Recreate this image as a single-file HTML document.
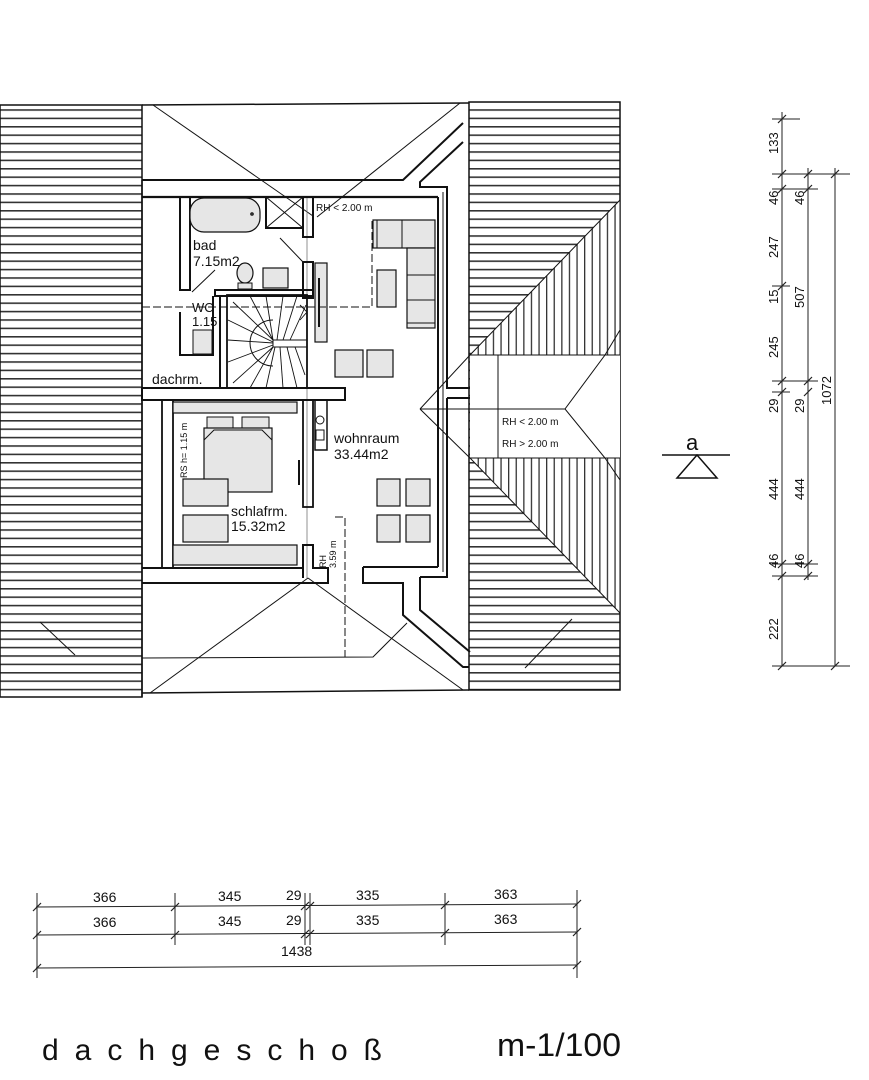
<!DOCTYPE html>
<html><head><meta charset="utf-8"><style>
html,body{margin:0;padding:0;background:#fff;}
svg{display:block;}
text{font-family:"Liberation Sans",sans-serif;fill:#111;}
</style></head><body>
<svg width="869" height="1080" viewBox="0 0 869 1080" xmlns="http://www.w3.org/2000/svg">
<defs>
<pattern id="hh" width="10" height="8.4" patternUnits="userSpaceOnUse"><rect width="10" height="8.4" fill="#fff"/><rect y="0" width="10" height="1.6" fill="#333"/></pattern>
<pattern id="vh" width="7.6" height="10" patternUnits="userSpaceOnUse" x="470"><rect width="7.6" height="10" fill="#fff"/><rect x="0" width="1.3" height="10" fill="#333"/></pattern>
</defs>
<g stroke="#111" fill="none">
<!-- left roof -->
<rect x="0" y="105" width="142" height="592" fill="url(#hh)" stroke-width="1.5"/>
<line x1="75" y1="655" x2="40" y2="622" stroke-width="1"/>
<!-- right roof -->
<rect x="469" y="102" width="151" height="588" fill="url(#hh)" stroke-width="1.5"/>
<polygon points="470,355 620,200 620,355" fill="url(#vh)" stroke-width="1"/>
<polygon points="470,458 620,458 620,613" fill="url(#vh)" stroke-width="1"/>
<rect x="470" y="355" width="150" height="103" fill="#fff" stroke="none"/>
<line x1="470" y1="355" x2="620" y2="355" stroke-width="1"/>
<line x1="470" y1="458" x2="620" y2="458" stroke-width="1"/>
<polyline points="420,409 470,355 605,355 565,409 605,458 470,458 420,409" stroke-width="1"/>
<line x1="420" y1="409" x2="565" y2="409" stroke-width="1"/>
<line x1="605" y1="355" x2="620" y2="330" stroke-width="1"/>
<line x1="605" y1="458" x2="620" y2="480" stroke-width="1"/>
<line x1="498" y1="355" x2="498" y2="458" stroke-width="1"/>
<line x1="572" y1="619" x2="525" y2="668" stroke-width="1"/>
<!-- central area top -->
<line x1="142" y1="105" x2="469" y2="103" stroke-width="1.5"/>
<line x1="153" y1="105" x2="313" y2="216" stroke-width="1"/>
<line x1="460" y1="103" x2="317" y2="217" stroke-width="1"/>
<polyline points="142,180 403,180 463,123" stroke-width="2"/>
<polyline points="420,188 420,182 463,142" stroke-width="2"/>
<line x1="142" y1="197" x2="438" y2="197" stroke-width="2.2"/>
<!-- living room right walls -->
<polyline points="420,187 447,187 447,388 470,388" stroke-width="2"/>
<line x1="438" y1="197" x2="438" y2="567" stroke-width="2"/>
<line x1="443" y1="192" x2="443" y2="572" stroke-width="1"/>
<polyline points="447,398 470,398" stroke-width="2"/>
<polyline points="447,398 447,577 420,577" stroke-width="2"/>
<line x1="307" y1="197" x2="307" y2="578" stroke-width="0.8" stroke="#777"/>
<!-- bathroom -->
<rect x="180" y="197" width="10" height="93" stroke-width="2"/>
<rect x="190" y="198" width="70" height="34" fill="#e6e6e6" rx="14" stroke-width="1.2"/>
<circle cx="252" cy="214" r="1.3" fill="#555"/>
<rect x="266" y="197" width="37" height="31" stroke-width="2"/>
<line x1="266" y1="197" x2="303" y2="228"/><line x1="303" y1="197" x2="266" y2="228"/>
<rect x="303" y="197" width="10" height="40" stroke-width="2"/>
<rect x="303" y="262" width="10" height="36" stroke-width="2"/>
<line x1="280" y1="238" x2="303" y2="262" stroke-width="1"/>
<rect x="215" y="290" width="98" height="6" stroke-width="2"/>
<ellipse cx="245" cy="273" rx="8" ry="10" fill="#e6e6e6" stroke-width="1.2"/>
<rect x="238" y="283" width="14" height="6" fill="#e6e6e6" stroke-width="1"/>
<rect x="263" y="268" width="25" height="20" fill="#e6e6e6" stroke-width="1.2"/>
<line x1="215" y1="270" x2="192" y2="292" stroke-width="1"/>
<!-- WC -->
<polyline points="180,312 180,355 213,355 213,296" stroke-width="2"/>
<rect x="193" y="330" width="19" height="24" fill="#e6e6e6" stroke-width="1"/>
<line x1="142" y1="307" x2="185" y2="307" stroke-dasharray="8,3" stroke-width="1"/>
<line x1="220" y1="296" x2="220" y2="388" stroke-width="2"/>
<!-- stairs -->
<rect x="227" y="295" width="80" height="93" stroke-width="1.8"/>
<rect x="273" y="340" width="34" height="7" stroke-width="1"/>
<path d="M273,320 A23,23 0 0 0 273,366" stroke-width="1"/>
<g stroke-width="0.9">
<line x1="273" y1="340" x2="233" y2="302"/><line x1="273" y1="340" x2="250" y2="296"/><line x1="273" y1="340" x2="266" y2="296"/>
<line x1="277" y1="340" x2="283" y2="296"/><line x1="283" y1="340" x2="297" y2="296"/><line x1="290" y1="340" x2="306" y2="305"/>
<line x1="273" y1="342" x2="228" y2="320"/><line x1="273" y1="343" x2="228" y2="340"/><line x1="273" y1="345" x2="228" y2="362"/>
<line x1="273" y1="347" x2="233" y2="383"/><line x1="273" y1="347" x2="250" y2="388"/><line x1="275" y1="347" x2="266" y2="388"/>
<line x1="280" y1="347" x2="283" y2="388"/><line x1="287" y1="347" x2="297" y2="388"/><line x1="295" y1="347" x2="305" y2="375"/>
</g>
<polyline points="300,305 307,312 300,320" stroke-width="0.9"/>
<!-- living furniture -->
<rect x="315" y="263" width="12" height="79" fill="#e6e6e6" stroke-width="1.2"/>
<line x1="319" y1="278" x2="319" y2="327" stroke-width="2"/>
<rect x="373" y="220" width="62" height="28" fill="#e6e6e6" stroke-width="1.2"/>
<rect x="407" y="248" width="28" height="80" fill="#e6e6e6" stroke-width="1.2"/>
<line x1="377" y1="220" x2="377" y2="248"/><line x1="402" y1="220" x2="402" y2="248"/>
<line x1="407" y1="275" x2="435" y2="275"/><line x1="407" y1="300" x2="435" y2="300"/><line x1="407" y1="323" x2="435" y2="323"/>
<rect x="377" y="270" width="19" height="37" fill="#e6e6e6" stroke-width="1.2"/>
<rect x="335" y="350" width="28" height="27" fill="#e6e6e6" stroke-width="1.2"/>
<rect x="367" y="350" width="26" height="27" fill="#e6e6e6" stroke-width="1.2"/>
<polyline points="142,307 372,307 372,218" stroke-dasharray="8,3" stroke-width="1"/>
<!-- mid wall -->
<polyline points="142,388 142,400 345,400 345,388 142,388" stroke-width="2"/>
<!-- bedroom -->
<rect x="162" y="400" width="11" height="168" stroke-width="1.8"/>
<rect x="303" y="400" width="10" height="107" stroke-width="1.8"/>
<rect x="315" y="400" width="12" height="50" stroke-width="1.5"/>
<circle cx="320" cy="420" r="4"/><rect x="316" y="430" width="8" height="10"/>
<rect x="173" y="402" width="124" height="11" fill="#e6e6e6" stroke-width="1.2"/>
<rect x="207" y="417" width="26" height="15" fill="#e6e6e6" stroke-width="1"/>
<rect x="242" y="417" width="27" height="15" fill="#e6e6e6" stroke-width="1"/>
<rect x="204" y="428" width="68" height="64" fill="#e6e6e6" stroke-width="1.2"/>
<polyline points="204,440 214,430 262,430 272,440" stroke-width="1"/>
<rect x="183" y="479" width="45" height="27" fill="#e6e6e6" stroke-width="1.2"/>
<rect x="183" y="515" width="45" height="27" fill="#e6e6e6" stroke-width="1.2"/>
<rect x="173" y="545" width="124" height="20" fill="#e6e6e6" stroke-width="1.2"/>
<line x1="299" y1="460" x2="299" y2="485" stroke-width="2"/>
<polyline points="303,578 303,545 313,545 313,568 328,568 328,583 142,583" stroke-width="2"/>
<line x1="142" y1="568" x2="303" y2="568" stroke-width="2"/>
<!-- dining -->
<rect x="377" y="479" width="23" height="27" fill="#e6e6e6" stroke-width="1.2"/>
<rect x="406" y="479" width="24" height="27" fill="#e6e6e6" stroke-width="1.2"/>
<rect x="377" y="515" width="23" height="27" fill="#e6e6e6" stroke-width="1.2"/>
<rect x="406" y="515" width="24" height="27" fill="#e6e6e6" stroke-width="1.2"/>
<!-- lower walls -->
<polyline points="363,567 363,583 403,583 403,615 463,667 469,667" stroke-width="2"/>
<polyline points="363,567 438,567" stroke-width="2"/>
<polyline points="420,577 420,610 470,652" stroke-width="2"/>
<polyline points="335,517 345,517 345,657" stroke-dasharray="8,3" stroke-width="1"/>
<line x1="308" y1="578" x2="150" y2="693" stroke-width="1"/>
<line x1="308" y1="578" x2="463" y2="690" stroke-width="1"/>
<polyline points="142,658 373,657 407,623" stroke-width="1"/>
<line x1="142" y1="693" x2="469" y2="690" stroke-width="1.5"/>
<line x1="142" y1="180" x2="142" y2="697" stroke-width="1.5"/>
</g>
<!-- labels -->
<g font-size="14">
<text x="193" y="250">bad</text><text x="193" y="266">7.15m2</text>
<text x="192" y="312" font-size="13">WC</text><text x="192" y="326" font-size="13">1.15</text>
<text x="152" y="384">dachrm.</text>
<text x="334" y="443">wohnraum</text><text x="334" y="459">33.44m2</text>
<text x="231" y="516">schlafrm.</text><text x="231" y="531">15.32m2</text>
</g>
<text x="316" y="211" font-size="10">RH &lt; 2.00 m</text>
<text x="502" y="425" font-size="10">RH &lt; 2.00 m</text>
<text x="502" y="447" font-size="10">RH &gt; 2.00 m</text>
<text transform="translate(187,478) rotate(-90)" font-size="9">RS h= 1.15 m</text>
<text transform="translate(326,568) rotate(-90)" font-size="9">RH</text>
<text transform="translate(336,568) rotate(-90)" font-size="9">3.59 m</text>
<!-- section marker -->
<g stroke="#111" fill="none" stroke-width="1.5">
<line x1="662" y1="455" x2="730" y2="455"/>
<polygon points="697,455 677,478 717,478"/>
</g>
<text x="686" y="450" font-size="22">a</text>
<!-- right dims -->
<g stroke="#222" stroke-width="1">
<line x1="782" y1="112" x2="782" y2="666"/>
<line x1="808" y1="168" x2="808" y2="580"/>
<line x1="835" y1="168" x2="835" y2="666"/>
<g>
<line x1="772" y1="119" x2="800" y2="119"/><line x1="772" y1="174" x2="850" y2="174"/>
<line x1="772" y1="189" x2="818" y2="189"/><line x1="772" y1="286" x2="790" y2="286"/>
<line x1="772" y1="381" x2="818" y2="381"/><line x1="772" y1="392" x2="790" y2="392"/>
<line x1="772" y1="564" x2="818" y2="564"/><line x1="772" y1="576" x2="818" y2="576"/>
<line x1="772" y1="666" x2="850" y2="666"/>
</g>
<g stroke-width="1.2">
<line x1="778" y1="123" x2="786" y2="115"/><line x1="778" y1="178" x2="786" y2="170"/><line x1="778" y1="193" x2="786" y2="185"/>
<line x1="778" y1="290" x2="786" y2="282"/><line x1="778" y1="385" x2="786" y2="377"/><line x1="778" y1="396" x2="786" y2="388"/>
<line x1="778" y1="568" x2="786" y2="560"/><line x1="778" y1="580" x2="786" y2="572"/><line x1="778" y1="670" x2="786" y2="662"/>
<line x1="804" y1="178" x2="812" y2="170"/><line x1="804" y1="193" x2="812" y2="185"/><line x1="804" y1="385" x2="812" y2="377"/>
<line x1="804" y1="396" x2="812" y2="388"/><line x1="804" y1="568" x2="812" y2="560"/><line x1="804" y1="580" x2="812" y2="572"/>
<line x1="831" y1="178" x2="839" y2="170"/><line x1="831" y1="670" x2="839" y2="662"/>
</g>
</g>
<g font-size="13">
<text transform="translate(778,154) rotate(-90)">133</text>
<text transform="translate(778,205) rotate(-90)">46</text>
<text transform="translate(778,258) rotate(-90)">247</text>
<text transform="translate(778,304) rotate(-90)">15</text>
<text transform="translate(778,358) rotate(-90)">245</text>
<text transform="translate(778,413) rotate(-90)">29</text>
<text transform="translate(778,500) rotate(-90)">444</text>
<text transform="translate(778,568) rotate(-90)">46</text>
<text transform="translate(778,640) rotate(-90)">222</text>
<text transform="translate(804,205) rotate(-90)">46</text>
<text transform="translate(804,308) rotate(-90)">507</text>
<text transform="translate(804,413) rotate(-90)">29</text>
<text transform="translate(804,500) rotate(-90)">444</text>
<text transform="translate(804,568) rotate(-90)">46</text>
<text transform="translate(831,405) rotate(-90)">1072</text>
</g>
<!-- bottom dims -->
<g stroke="#222" stroke-width="1">
<line x1="36" y1="907" x2="577" y2="904"/>
<line x1="36" y1="935" x2="577" y2="932"/>
<line x1="36" y1="968" x2="577" y2="965"/>
<line x1="37" y1="893" x2="37" y2="978"/>
<line x1="175" y1="893" x2="175" y2="945"/>
<line x1="305" y1="893" x2="305" y2="945"/>
<line x1="310" y1="893" x2="310" y2="945"/>
<line x1="445" y1="893" x2="445" y2="945"/>
<line x1="577" y1="890" x2="577" y2="978"/>
<g stroke-width="1.2">
<line x1="33" y1="911" x2="41" y2="903"/><line x1="171" y1="911" x2="179" y2="903"/><line x1="301" y1="910" x2="309" y2="902"/><line x1="306" y1="910" x2="314" y2="902"/><line x1="441" y1="909" x2="449" y2="901"/><line x1="573" y1="908" x2="581" y2="900"/>
<line x1="33" y1="939" x2="41" y2="931"/><line x1="171" y1="939" x2="179" y2="931"/><line x1="301" y1="938" x2="309" y2="930"/><line x1="306" y1="938" x2="314" y2="930"/><line x1="441" y1="937" x2="449" y2="929"/><line x1="573" y1="936" x2="581" y2="928"/>
<line x1="33" y1="972" x2="41" y2="964"/><line x1="573" y1="969" x2="581" y2="961"/>
</g>
</g>
<g font-size="14">
<text x="93" y="902">366</text><text x="218" y="901">345</text><text x="286" y="900">29</text><text x="356" y="900">335</text><text x="494" y="899">363</text>
<text x="93" y="927">366</text><text x="218" y="926">345</text><text x="286" y="925">29</text><text x="356" y="925">335</text><text x="494" y="924">363</text>
<text x="281" y="956">1438</text>
</g>
<text x="42" y="1060" font-size="30" textLength="340" lengthAdjust="spacing">dachgeschoß</text>
<text x="497" y="1056" font-size="32" textLength="124" lengthAdjust="spacingAndGlyphs">m-1/100</text>
</svg>
</body></html>
